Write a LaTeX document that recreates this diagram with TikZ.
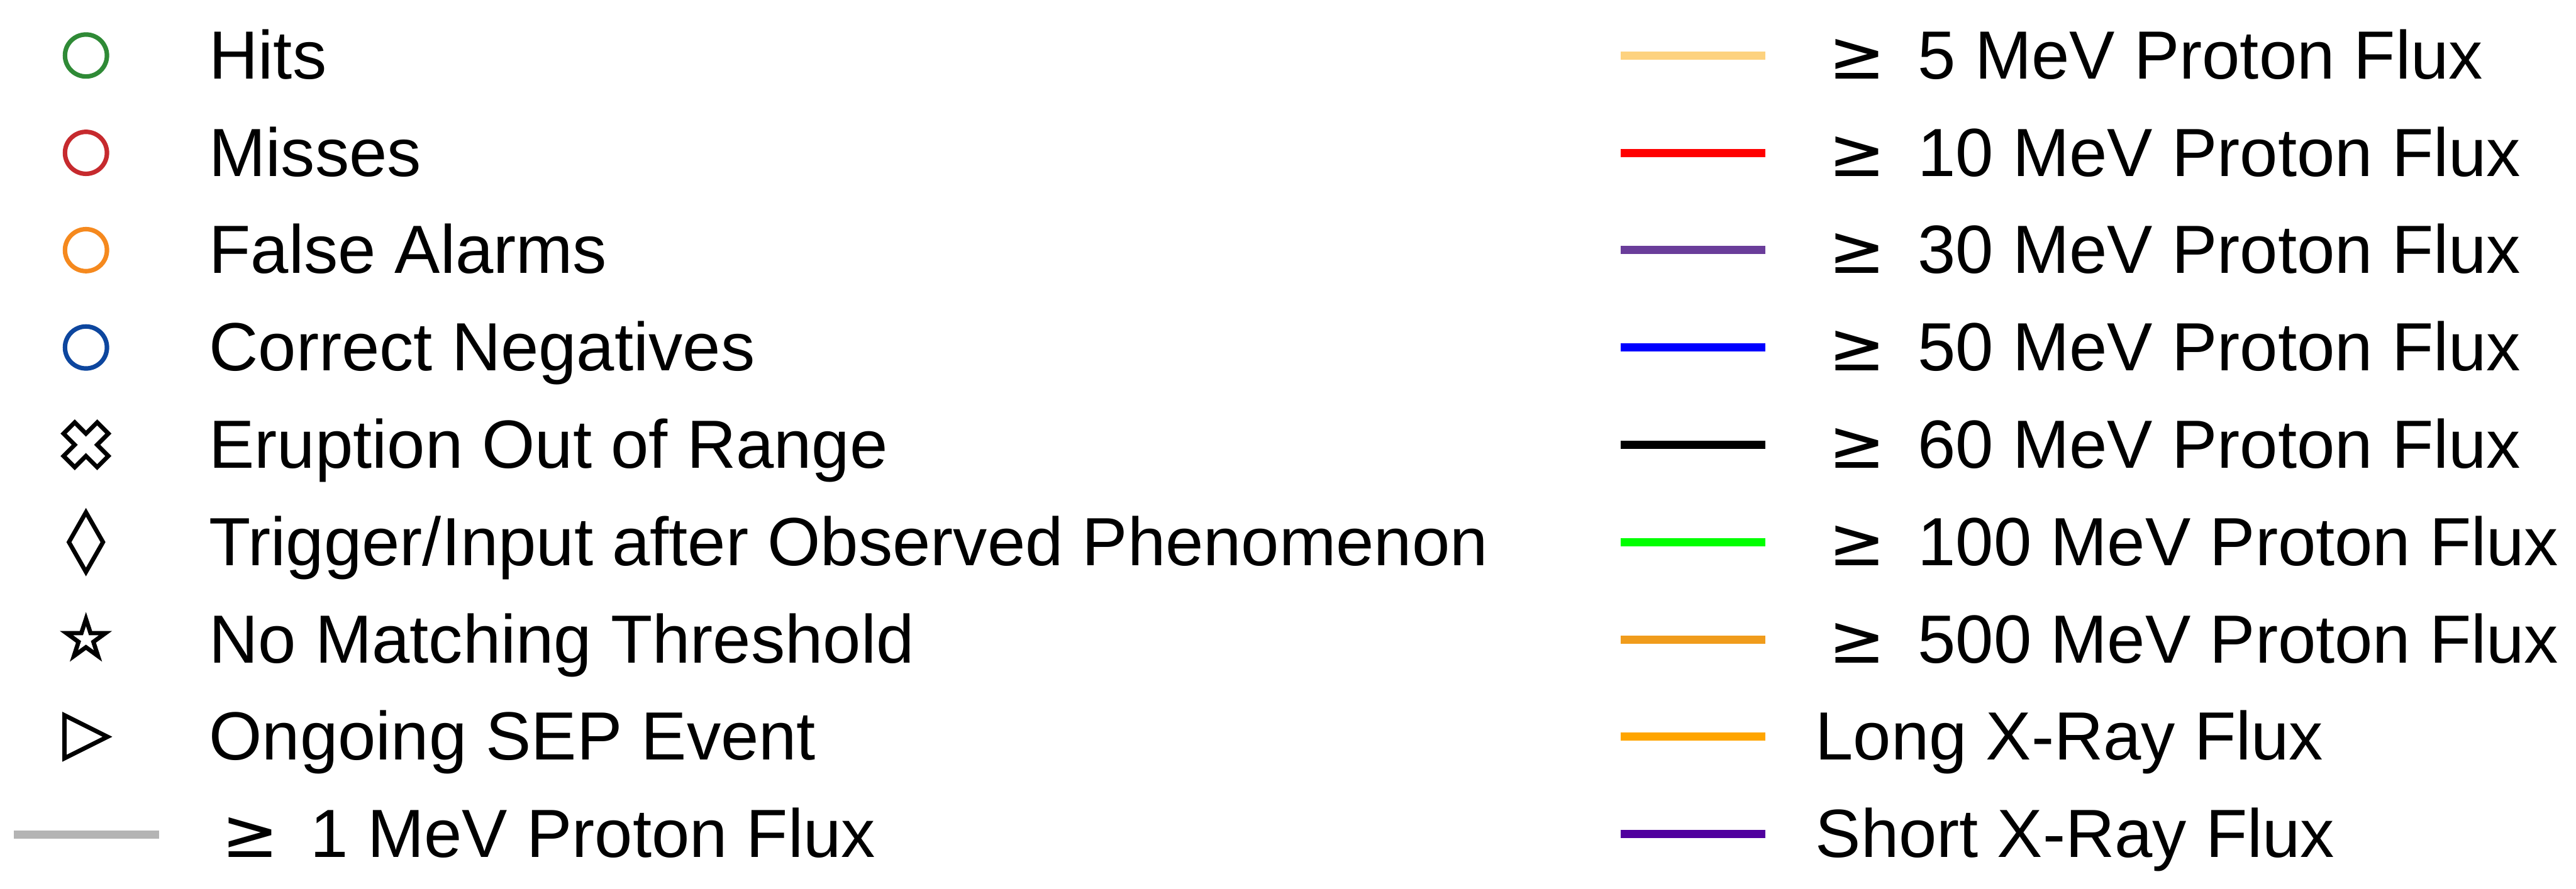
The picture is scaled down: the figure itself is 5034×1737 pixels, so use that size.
\documentclass[tikz,border=0pt]{standalone}
\usepackage{fontspec}
\setmainfont{Liberation Sans}
\newfontfamily\dejavu{DejaVu Sans}
\usetikzlibrary{shapes.geometric}
\definecolor{hitcolor}{HTML}{2F8A36}
\definecolor{misscolor}{HTML}{C62A2E}
\definecolor{falsecolor}{HTML}{F5891E}
\definecolor{negcolor}{HTML}{0D469E}
\definecolor{onemev}{HTML}{B4B4B4}
\definecolor{fivemev}{HTML}{FDD27F}
\definecolor{tenmev}{HTML}{FF0000}
\definecolor{thirtymev}{HTML}{6A3D9A}
\definecolor{fiftymev}{HTML}{0000FF}
\definecolor{sixtymev}{HTML}{000000}
\definecolor{hundredmev}{HTML}{00FF00}
\definecolor{fivehundredmev}{HTML}{F09C1C}
\definecolor{longxray}{HTML}{FFA500}
\definecolor{shortxray}{HTML}{50009E}
\newcommand{\geqmark}{{\dejavu ≥}\hspace{0.47em}}

\begin{document}
\begin{tikzpicture}[
  x=0.01cm, y=-0.01cm,
  font=\fontsize{37.9}{46}\selectfont,
  lab/.style={anchor=base west, inner sep=0pt},
  ring/.style={circle, draw, line width=2.5pt, minimum size=0.82cm, inner sep=0pt},
  mk/.style={draw, line width=2.4pt, line join=miter},
  flux/.style={line width=4.55pt}
]
  \useasboundingbox (0,0) rectangle (5034,1737);
  % left column: outcome markers
  \node[ring, draw=hitcolor]   (mhit)  at (168,108.5)  {};
  \node[ring, draw=misscolor]  (mmiss) at (168,298.75) {};
  \node[ring, draw=falsecolor] (mfa)   at (168,489)    {};
  \node[ring, draw=negcolor]   (mneg)  at (168,679.25) {};
  \coordinate (mrange) at (168,869.5);
  \draw[mk, shift={(mrange)}] (-43.8,-21.9) -- (-21.9,-43.8) -- (0,-21.9) -- (21.9,-43.8)
    -- (43.8,-21.9) -- (21.9,0) -- (43.8,21.9) -- (21.9,43.8) -- (0,21.9) -- (-21.9,43.8)
    -- (-43.8,21.9) -- (-21.9,0) -- cycle;
  \node[mk, diamond, minimum width=0.7cm, minimum height=1.2cm, inner sep=0pt] (mtrig) at (168,1059.75) {};
  \node[mk, star, star points=5, star point ratio=2.618, minimum size=0.8cm, inner sep=0pt] (mthr) at (168,1250) {};
  \coordinate (mong) at (168,1440.25);
  \draw[mk] (mong) ++(-42,-42) -- ++(0,84) -- ++(84,-42) -- cycle;
  \draw[flux, onemev] (27,1632) -- (311,1632);

  \node[lab] (hits)  at (408,154)     {Hits};
  \node[lab] (miss)  at (408,344.25)  {Misses};
  \node[lab] (fa)    at (408,534.5)   {False Alarms};
  \node[lab] (neg)   at (408,724.75)  {Correct Negatives};
  \node[lab] (range) at (408,915)     {Eruption Out of Range};
  \node[lab] (trig)  at (408,1105.25) {Trigger/Input after Observed Phenomenon};
  \node[lab] (thr)   at (408,1295.5)  {No Matching Threshold};
  \node[lab] (ong)   at (408,1485.75) {Ongoing SEP Event};
  \node[lab] (p1)    at (432,1676)    {\geqmark 1 MeV Proton Flux};

  % right column: flux lines
  \draw[flux, fivemev]        (3167,108.5)  -- (3450,108.5);
  \draw[flux, tenmev]         (3167,298.75) -- (3450,298.75);
  \draw[flux, thirtymev]      (3167,489)    -- (3450,489);
  \draw[flux, fiftymev]       (3167,679.25) -- (3450,679.25);
  \draw[flux, sixtymev]       (3167,869.5)  -- (3450,869.5);
  \draw[flux, hundredmev]     (3167,1059.75) -- (3450,1059.75);
  \draw[flux, fivehundredmev] (3167,1250)   -- (3450,1250);
  \draw[flux, longxray]       (3167,1440.25) -- (3450,1440.25);
  \draw[flux, shortxray]      (3167,1630.5) -- (3450,1630.5);

  \node[lab] (p5)   at (3573,154)     {\geqmark 5 MeV Proton Flux};
  \node[lab] (p10)  at (3573,344.25)  {\geqmark 10 MeV Proton Flux};
  \node[lab] (p30)  at (3573,534.5)   {\geqmark 30 MeV Proton Flux};
  \node[lab] (p50)  at (3573,724.75)  {\geqmark 50 MeV Proton Flux};
  \node[lab] (p60)  at (3573,915)     {\geqmark 60 MeV Proton Flux};
  \node[lab] (p100) at (3573,1105.25) {\geqmark 100 MeV Proton Flux};
  \node[lab] (p500) at (3573,1295.5)  {\geqmark 500 MeV Proton Flux};
  \node[lab] (lx)   at (3547,1485.75) {Long X-Ray Flux};
  \node[lab] (sx)   at (3547,1676)    {Short X-Ray Flux};
\end{tikzpicture}
\end{document}
